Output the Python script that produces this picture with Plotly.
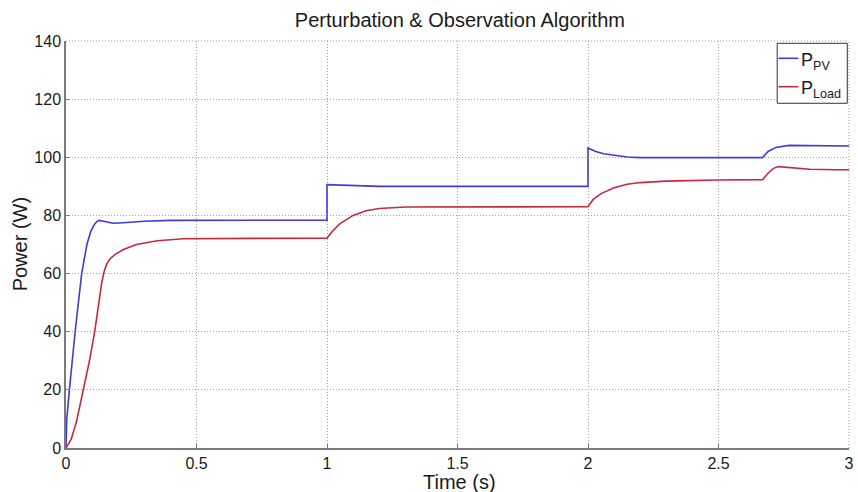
import plotly.graph_objects as go

# Simulated power traces of the P&O MPPT controller (time in s, power in W)
t_pv = [0, 0.003, 0.013, 0.035, 0.06, 0.08, 0.095, 0.108, 0.118, 0.127, 0.14, 0.16, 0.18, 0.22, 0.3, 0.4, 0.6, 1.0,
        1.0, 1.04, 1.1, 1.2, 1.5, 2.0,
        2.0, 2.03, 2.06, 2.1, 2.15, 2.2, 2.4, 2.669,
        2.69, 2.72, 2.77, 2.85, 3.0]
p_pv = [0, 10, 20, 40, 60, 70, 74.5, 76.8, 77.9, 78.3, 78.1, 77.6, 77.3, 77.5, 78.0, 78.3, 78.4, 78.4,
        90.6, 90.5, 90.2, 90.0, 90.0, 90.0,
        103.2, 102.0, 101.2, 100.6, 100.1, 99.9, 99.9, 99.9,
        102.0, 103.4, 104.1, 104.0, 103.9]

t_load = [0, 0.02, 0.04, 0.067, 0.09, 0.11, 0.125, 0.137, 0.147, 0.157, 0.17, 0.19, 0.22, 0.27, 0.35, 0.45, 1.0,
          1.02, 1.05, 1.1, 1.15, 1.2, 1.3, 1.6, 2.0,
          2.02, 2.05, 2.1, 2.15, 2.2, 2.3, 2.5, 2.669,
          2.69, 2.71, 2.73, 2.78, 2.85, 2.95, 3.0]
p_load = [0, 3, 9, 20, 30, 40, 50, 57, 61, 63.5, 65.2, 66.7, 68.3, 70.0, 71.3, 72.0, 72.2,
          74.5, 77.2, 80.0, 81.6, 82.4, 82.9, 83.0, 83.0,
          85.5, 87.5, 89.5, 90.7, 91.3, 91.8, 92.2, 92.3,
          94.5, 96.2, 96.8, 96.4, 95.9, 95.7, 95.7]

x_ticks = [0, 0.5, 1, 1.5, 2, 2.5, 3]
x_tick_text = ["0", "0.5", "1", "1.5", "2", "2.5", "3"]
y_ticks = [0, 20, 40, 60, 80, 100, 120, 140]

series_names = ["P<sub>PV</sub>", "P<sub>Load</sub>"]
series_colors = ["#3c3cdc", "#c42a3c"]

FONT = "Liberation Sans, Arial, sans-serif"

fig = go.Figure()
fig.add_trace(go.Scatter(x=t_pv, y=p_pv, mode="lines", name=series_names[0],
                         line=dict(color=series_colors[0], width=1.6), showlegend=False))
fig.add_trace(go.Scatter(x=t_load, y=p_load, mode="lines", name=series_names[1],
                         line=dict(color=series_colors[1], width=1.6), showlegend=False))

axis_common = dict(
    showgrid=True, gridcolor="#a0a0a0", griddash="1px,2px", gridwidth=1,
    zeroline=False, showline=True, linecolor="#7a7a7a", linewidth=1.5,
    ticks="inside", ticklen=4, tickcolor="#7a7a7a",
    tickfont=dict(family=FONT, size=16, color="#1a1a1a"),
    ticklabeloverflow="allow",
)

fig.update_layout(
    width=858, height=492,
    margin=dict(l=66, r=4, t=41, b=44),
    paper_bgcolor="white", plot_bgcolor="white",
    title=dict(text="Perturbation & Observation Algorithm", x=0.536, xanchor="center",
               y=0.959, yanchor="middle",
               font=dict(family=FONT, size=20, color="#1a1a1a")),
    xaxis=dict(range=[0, 3], tickvals=x_ticks, ticktext=x_tick_text, **axis_common),
    yaxis=dict(range=[0, 140], tickvals=y_ticks, **axis_common),
)

# axis titles
fig.add_annotation(text="Time (s)", xref="paper", yref="paper", x=0.5025, y=-0.0845,
                   xanchor="center", yanchor="middle", showarrow=False,
                   font=dict(family=FONT, size=20, color="#1a1a1a"))
fig.add_annotation(text="Power (W)", xref="paper", yref="paper", x=-0.0584, y=0.501,
                   xanchor="center", yanchor="middle", showarrow=False, textangle=-90,
                   font=dict(family=FONT, size=20, color="#1a1a1a"))

# dotted frame along the top and right edges
fig.add_shape(type="line", xref="paper", yref="paper", x0=0, x1=1, y0=1, y1=1,
              line=dict(color="#a0a0a0", width=1, dash="1px,2px"))
fig.add_shape(type="line", xref="paper", yref="paper", x0=1, x1=1, y0=0, y1=1,
              line=dict(color="#a0a0a0", width=1, dash="1px,2px"))

# compact legend box in the upper-right corner
fig.add_shape(type="rect", xref="paper", yref="paper", x0=0.9083, x1=0.9978, y0=0.847, y1=0.9943,
              line=dict(color="#333333", width=1), fillcolor="white", layer="above")
legend_rows = [0.9575, 0.8877]
for name, color, yrow in zip(series_names, series_colors, legend_rows):
    fig.add_shape(type="line", xref="paper", yref="paper", x0=0.9099, x1=0.9353, y0=yrow, y1=yrow,
                  line=dict(color=color, width=1.6), layer="above")
    fig.add_annotation(text=name, xref="paper", yref="paper", x=0.9360, y=yrow,
                       xanchor="left", yanchor="middle", showarrow=False, yshift=-3,
                       font=dict(family=FONT, size=18, color="#1a1a1a"))

fig.write_html("out.html")
